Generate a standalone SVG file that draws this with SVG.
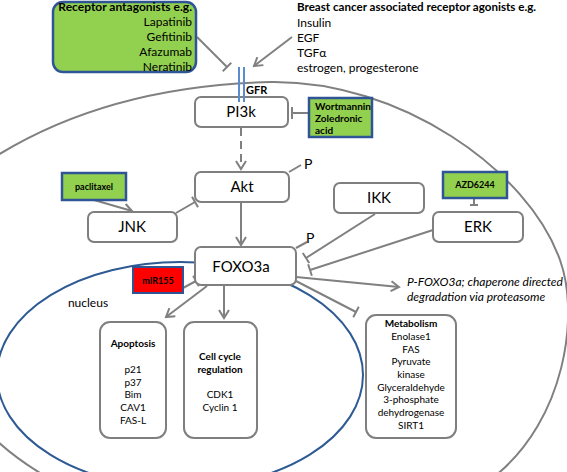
<svg xmlns="http://www.w3.org/2000/svg" width="567" height="472" viewBox="0 0 567 472">
<defs>
<style>
text{font-family:Lato,"Liberation Sans",sans-serif;fill:#000}
.node{fill:#fff;stroke:#7f7f7f;stroke-width:2}
.lbl{font-size:15px;text-anchor:middle}
.drug{fill:#92d050;stroke:#2f5597;stroke-width:2.5}
.sm{font-size:9px;font-weight:bold;text-anchor:middle}
.con{stroke:#808080;stroke-width:2;fill:none}
.t12{font-size:12px}
.b{font-weight:bold}
.mid{text-anchor:middle}
.box{font-size:10px;text-anchor:middle}
</style>
<marker id="arr" markerWidth="12" markerHeight="12" refX="10" refY="6" orient="auto" markerUnits="userSpaceOnUse"><path d="M2,1 L10,6 L2,11" fill="none" stroke="#808080" stroke-width="2"/></marker>
<marker id="bar" markerWidth="4" markerHeight="16" refX="2" refY="8" orient="auto" markerUnits="userSpaceOnUse"><path d="M2,2 L2,14" stroke="#808080" stroke-width="2"/></marker>
<marker id="barS" markerWidth="4" markerHeight="12" refX="2" refY="6" orient="auto" markerUnits="userSpaceOnUse"><path d="M2,2 L2,10" stroke="#808080" stroke-width="2"/></marker>
</defs>
<rect width="567" height="472" fill="#fff"/>
<g id="cell-membrane" fill="none" stroke="#808080" stroke-width="2">
<path d="M-10,160 C60,115 150,85 270,82 C400,80 528,170 560,260 C580,315 565,420 495,476"/>
<path d="M-5,439 Q15,458 45,476"/>
</g>
<g id="nucleus">
<ellipse cx="180" cy="375" rx="183" ry="113" fill="none" stroke="#2e5a94" stroke-width="2"/>
<text x="88" y="307" class="t12 mid">nucleus</text>
</g>
<g id="connectors">
<line class="con" x1="197" y1="37" x2="227" y2="67" marker-end="url(#bar)"/>
<line class="con" x1="292" y1="37" x2="254" y2="66" marker-end="url(#arr)"/>
<line class="con" x1="241" y1="128" x2="241" y2="169" stroke-dasharray="8,5" marker-end="url(#arr)"/>
<line class="con" x1="309" y1="113" x2="292" y2="113" marker-end="url(#bar)"/>
<line class="con" x1="241" y1="203" x2="241" y2="245" marker-end="url(#arr)"/>
<line class="con" x1="176" y1="213" x2="195" y2="202" marker-end="url(#bar)"/>
<line class="con" x1="94" y1="200" x2="132" y2="211" marker-end="url(#arr)"/>
<line class="con" x1="375" y1="214" x2="306" y2="258" marker-end="url(#bar)"/>
<line class="con" x1="433" y1="230" x2="310" y2="270" marker-end="url(#bar)"/>
<line class="con" x1="296" y1="277" x2="399" y2="287" marker-end="url(#arr)"/>
<line class="con" x1="296" y1="281" x2="356" y2="312" marker-end="url(#bar)"/>
<line class="con" x1="183" y1="288" x2="196" y2="281" marker-end="url(#bar)"/>
<line class="con" x1="207" y1="286" x2="166" y2="317" marker-end="url(#arr)"/>
<line class="con" x1="224" y1="286" x2="224" y2="318" marker-end="url(#arr)"/>
<line class="con" x1="474" y1="199" x2="474" y2="205" marker-end="url(#barS)"/>
<line class="con" x1="289" y1="172" x2="301" y2="165"/>
<line class="con" x1="296" y1="248" x2="307" y2="242"/>
</g>
<g id="antagonists">
<rect x="53" y="2" width="143" height="70" rx="10" class="drug"/>
<g class="t12" text-anchor="end">
<text x="192" y="11" class="b">Receptor antagonists e.g.</text>
<text x="192" y="26">Lapatinib</text>
<text x="192" y="41">Gefitinib</text>
<text x="192" y="56">Afazumab</text>
<text x="192" y="71">Neratinib</text>
</g>
</g>
<g id="agonists" class="t12">
<text x="297" y="11" class="b" font-size="11.6">Breast cancer associated receptor agonists e.g.</text>
<text x="297" y="27">Insulin</text>
<text x="297" y="42">EGF</text>
<text x="297" y="57">TGFα</text>
<text x="297" y="72">estrogen, progesterone</text>
</g>
<g id="pi3k">
<rect x="195" y="97" width="93" height="30" rx="6" class="node"/>
<text x="241" y="117" class="lbl">PI3k</text>
</g>
<g id="gfr">
<line x1="239" y1="67" x2="239" y2="102" stroke="#5b8bd0" stroke-width="2"/>
<line x1="244" y1="67" x2="244" y2="102" stroke="#5b8bd0" stroke-width="2"/>
<text x="246" y="94" font-size="11" font-weight="bold">GFR</text>
</g>
<g id="wortmannin">
<rect x="309" y="98" width="63" height="39" class="drug"/>
<g font-size="10" font-weight="bold">
<text x="315" y="110">Wortmannin</text>
<text x="315" y="122">Zoledronic</text>
<text x="315" y="134">acid</text>
</g>
</g>
<g id="akt">
<rect x="195" y="172" width="94" height="30" rx="6" class="node"/>
<text x="242" y="192" class="lbl">Akt</text>
<text x="304" y="169" font-size="14">P</text>
</g>
<g id="paclitaxel">
<rect x="62" y="173" width="64" height="27" class="drug"/>
<text x="94" y="190" class="sm">paclitaxel</text>
</g>
<g id="jnk">
<rect x="88" y="212" width="89" height="30" rx="6" class="node"/>
<text x="132" y="232" class="lbl">JNK</text>
</g>
<g id="ikk">
<rect x="334" y="183" width="90" height="30" rx="6" class="node"/>
<text x="379" y="203" class="lbl">IKK</text>
</g>
<g id="azd6244">
<rect x="443" y="172" width="64" height="26" class="drug"/>
<text x="475" y="188" class="sm">AZD6244</text>
</g>
<g id="erk">
<rect x="433" y="212" width="90" height="30" rx="6" class="node"/>
<text x="478" y="232" class="lbl">ERK</text>
</g>
<g id="foxo3a">
<rect x="195" y="247" width="101" height="38" rx="6" class="node"/>
<text x="241" y="272" class="lbl" font-size="14.5">FOXO3a</text>
<text x="306" y="243" font-size="14">P</text>
</g>
<g id="mir155">
<rect x="133" y="267" width="50" height="26" fill="#ff0000" stroke="#2f5597" stroke-width="2"/>
<text x="158" y="284" class="sm" font-weight="normal">mIR155</text>
</g>
<g id="pfoxo3a" font-size="12" font-style="italic">
<text x="407" y="286">P-FOXO3a; chaperone directed</text>
<text x="407" y="301">degradation via proteasome</text>
</g>
<g id="apoptosis">
<rect x="100" y="322" width="66" height="116" rx="10" class="node"/>
<g class="box">
<text x="133" y="347" font-weight="bold">Apoptosis</text>
<text x="133" y="373">p21</text>
<text x="133" y="386">p37</text>
<text x="133" y="398">Bim</text>
<text x="133" y="411">CAV1</text>
<text x="133" y="424">FAS-L</text>
</g>
</g>
<g id="cellcycle">
<rect x="184" y="322" width="73" height="116" rx="10" class="node"/>
<g class="box">
<text x="220" y="360" font-weight="bold">Cell cycle</text>
<text x="220" y="373" font-weight="bold">regulation</text>
<text x="220" y="398">CDK1</text>
<text x="220" y="411">Cyclin 1</text>
</g>
</g>
<g id="metabolism">
<rect x="366" y="315" width="90" height="123" rx="10" class="node"/>
<g class="box">
<text x="411" y="327" font-weight="bold">Metabolism</text>
<text x="411" y="340">Enolase1</text>
<text x="411" y="353">FAS</text>
<text x="411" y="365">Pyruvate</text>
<text x="411" y="378">kinase</text>
<text x="411" y="391">Glyceraldehyde</text>
<text x="411" y="403">3-phosphate</text>
<text x="411" y="416">dehydrogenase</text>
<text x="411" y="429">SIRT1</text>
</g>
</g>
</svg>
